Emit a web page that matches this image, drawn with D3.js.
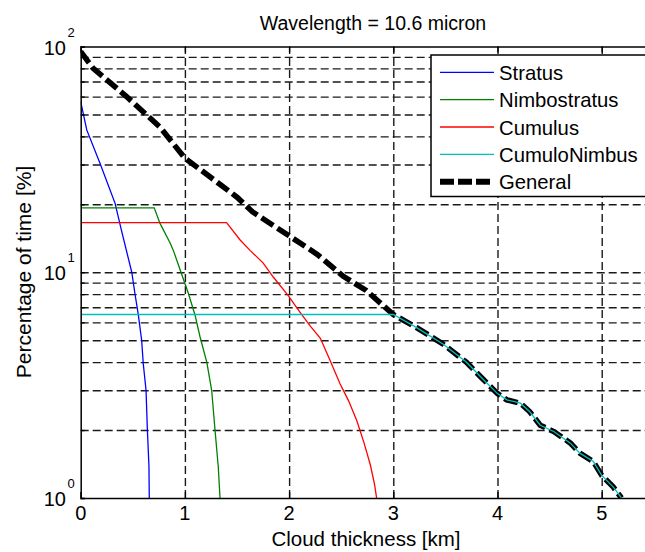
<!DOCTYPE html>
<html>
<head>
<meta charset="utf-8">
<script src="https://cdn.jsdelivr.net/npm/d3@7"></script>
<style>
  html, body { margin: 0; padding: 0; background: #fff; }
  svg { display: block; }
  text { font-family: "Liberation Sans", Arial, Helvetica, sans-serif; fill: #000; }
</style>
</head>
<body>
<svg id="chart" width="645" height="552"></svg>
<script>
// Cloud thickness [km] vs percentage of time [%], per cloud type
const xTicks = [0, 1, 2, 3, 4, 5];
const yDecades = [0, 1, 2];

const stratusX = [0, 0.058, 0.185, 0.33, 0.39, 0.49, 0.52, 0.553, 0.585, 0.60, 0.627, 0.64, 0.655, 0.658];
const stratusY = [57, 42.7, 30.4, 20.2, 15.4, 10, 8.07, 6.47, 5.0, 3.95, 3.0, 2.0, 1.38, 1.0];

const nimboX = [0, 0.706, 0.76, 0.857, 0.889, 0.969, 1.033, 1.097, 1.145, 1.21, 1.257, 1.289, 1.32, 1.337];
const nimboY = [19.3, 19.3, 16.5, 13.5, 12.5, 9.8, 8.07, 6.47, 5.18, 4.0, 3.0, 2.0, 1.38, 1.0];

const cumulusX = [0, 1.40, 1.53, 1.625, 1.75, 1.85, 1.99, 2.10, 2.20, 2.30, 2.38, 2.49, 2.57, 2.65, 2.72, 2.78, 2.82, 2.84];
const cumulusY = [16.6, 16.6, 13.9, 12.5, 11.0, 9.5, 7.9, 6.7, 5.8, 5.1, 4.2, 3.2, 2.7, 2.2, 1.75, 1.4, 1.15, 1.0];

const generalX = [0, 0.12, 0.44, 0.76, 1.0, 1.24, 1.5, 1.65, 2.0, 2.27, 2.52, 2.74, 3.0, 3.22, 3.48, 3.70, 3.85, 4.0, 4.09, 4.22, 4.31, 4.41, 4.54, 4.70, 4.79, 4.92, 5.00, 5.11, 5.19];
const generalY = [95, 80, 60, 44, 32, 26.5, 21.5, 18.5, 14.5, 12, 9.6, 8.3, 6.5, 5.7, 4.8, 4.0, 3.4, 2.9, 2.72, 2.63, 2.41, 2.10, 1.97, 1.75, 1.58, 1.45, 1.26, 1.12, 1.0];

// CumuloNimbus: constant until 3 km, then follows the general curve
const cbX = [0].concat(generalX.filter(x => x >= 3));
const cbY = [6.5].concat(generalY.filter((y, i) => generalX[i] >= 3));

const seriesNames = ["Stratus", "Nimbostratus", "Cumulus", "CumuloNimbus", "General"];
const seriesColors = ["#0000ff", "#008000", "#ff0000", "#00bfbf", "#000000"];

const svg = d3.select("#chart");
const pLeft = 80.7, pRight = 653.8, pTop = 46.5, pBottom = 498;

const x = d3.scaleLinear().domain([0, 5.5]).range([pLeft, pRight]);
const y = d3.scaleLog().domain([1, 100]).range([pBottom, pTop]);

// clip region for the plot area
svg.append("defs").append("clipPath").attr("id", "plotclip")
  .append("rect").attr("x", pLeft).attr("y", pTop)
  .attr("width", pRight - pLeft).attr("height", pBottom - pTop);

// minor/major log grid values 1..100
const yGrid = [];
for (let d = 0; d < 2; d++) for (let m = 1; m <= 9; m++) yGrid.push(m * Math.pow(10, d));
yGrid.push(100);

const grid = svg.append("g").attr("clip-path", "url(#plotclip)");
grid.append("g")
  .attr("transform", `translate(${pLeft},0)`)
  .call(d3.axisLeft(y).tickValues(yGrid.filter(v => v > 1 && v < 100)).tickSize(-(pRight - pLeft)).tickFormat(""))
  .call(g => g.select(".domain").remove())
  .call(g => g.selectAll("line").attr("stroke", "#1a1a1a").attr("stroke-width", 1.4).attr("stroke-dasharray", "8,4"));
grid.append("g")
  .attr("transform", `translate(0,${pBottom})`)
  .call(d3.axisBottom(x).tickValues(xTicks.filter(v => v > 0)).tickSize(-(pBottom - pTop)).tickFormat(""))
  .call(g => g.select(".domain").remove())
  .call(g => g.selectAll("line").attr("stroke", "#1a1a1a").attr("stroke-width", 1.4).attr("stroke-dasharray", "8,4"));

// data lines
const line = d3.line().x(d => x(d[0])).y(d => y(d[1]));
const plot = svg.append("g").attr("clip-path", "url(#plotclip)");
const zip = (a, b) => a.map((v, i) => [v, b[i]]);

plot.append("path").datum(zip(generalX, generalY)).attr("d", line)
  .attr("fill", "none").attr("stroke", seriesColors[4]).attr("stroke-width", 5.5)
  .attr("stroke-dasharray", "14,5");
plot.append("path").datum(zip(stratusX, stratusY)).attr("d", line)
  .attr("fill", "none").attr("stroke", seriesColors[0]).attr("stroke-width", 1.3);
plot.append("path").datum(zip(nimboX, nimboY)).attr("d", line)
  .attr("fill", "none").attr("stroke", seriesColors[1]).attr("stroke-width", 1.3);
plot.append("path").datum(zip(cumulusX, cumulusY)).attr("d", line)
  .attr("fill", "none").attr("stroke", seriesColors[2]).attr("stroke-width", 1.3);
plot.append("path").datum(zip(cbX, cbY)).attr("d", line)
  .attr("fill", "none").attr("stroke", seriesColors[3]).attr("stroke-width", 1.3);

// axes frame with inward ticks
const axB = svg.append("g").attr("transform", `translate(0,${pBottom})`)
  .call(d3.axisBottom(x).tickValues(xTicks).tickSize(-6).tickFormat(""));
const axT = svg.append("g").attr("transform", `translate(0,${pTop})`)
  .call(d3.axisTop(x).tickValues(xTicks).tickSize(-6).tickFormat(""));
const axL = svg.append("g").attr("transform", `translate(${pLeft},0)`)
  .call(d3.axisLeft(y).tickValues(yGrid).tickSize(-4).tickFormat(""));
[axB, axT, axL].forEach(g => {
  g.select(".domain").attr("stroke", "#000").attr("stroke-width", 1.5);
  g.selectAll(".tick line").attr("stroke", "#000").attr("stroke-width", 1.3);
});
svg.append("line").attr("x1", pRight).attr("x2", pRight).attr("y1", pTop).attr("y2", pBottom)
  .attr("stroke", "#000").attr("stroke-width", 1.5);

// x tick labels
svg.append("g").selectAll("text").data(xTicks).join("text")
  .attr("x", d => x(d)).attr("y", 520)
  .attr("text-anchor", "middle").attr("font-size", 20)
  .text(d => d);

// y tick labels 10^n
const yl = svg.append("g").selectAll("g").data(yDecades).join("g");
yl.append("text")
  .attr("x", 66).attr("y", d => y(Math.pow(10, d)) + 8)
  .attr("text-anchor", "end").attr("font-size", 20)
  .text("10");
yl.append("text")
  .attr("x", 67.5).attr("y", d => y(Math.pow(10, d)) - 10)
  .attr("font-size", 13)
  .text(d => d);

// titles
svg.append("text").attr("x", 373).attr("y", 30).attr("text-anchor", "middle")
  .attr("font-size", 19.5).text("Wavelength = 10.6 micron");
svg.append("text").attr("x", 366).attr("y", 546).attr("text-anchor", "middle")
  .attr("font-size", 20.5).text("Cloud thickness [km]");
svg.append("text").attr("transform", "translate(31,272) rotate(-90)").attr("text-anchor", "middle")
  .attr("font-size", 21).text("Percentage of time [%]");

// legend
const lg = svg.append("g");
lg.append("rect").attr("x", 431).attr("y", 55).attr("width", 218).attr("height", 141.5)
  .attr("fill", "#fff").attr("stroke", "#000").attr("stroke-width", 1.5);
const rowY = d3.scalePoint().domain(seriesNames).range([72.3, 181.7]);
const rows = lg.selectAll("g.row").data(seriesNames).join("g").attr("class", "row")
  .attr("transform", d => `translate(0,${rowY(d)})`);
rows.append("line").attr("x1", 440).attr("x2", 494).attr("y1", 0).attr("y2", 0)
  .attr("stroke", (d, i) => seriesColors[i])
  .attr("stroke-width", (d, i) => i === 4 ? 6 : 1.3)
  .attr("stroke-dasharray", (d, i) => i === 4 ? "14,4" : null);
rows.append("text").attr("x", 499).attr("y", 7.5).attr("font-size", 20.3).text(d => d);
</script>
</body>
</html>
